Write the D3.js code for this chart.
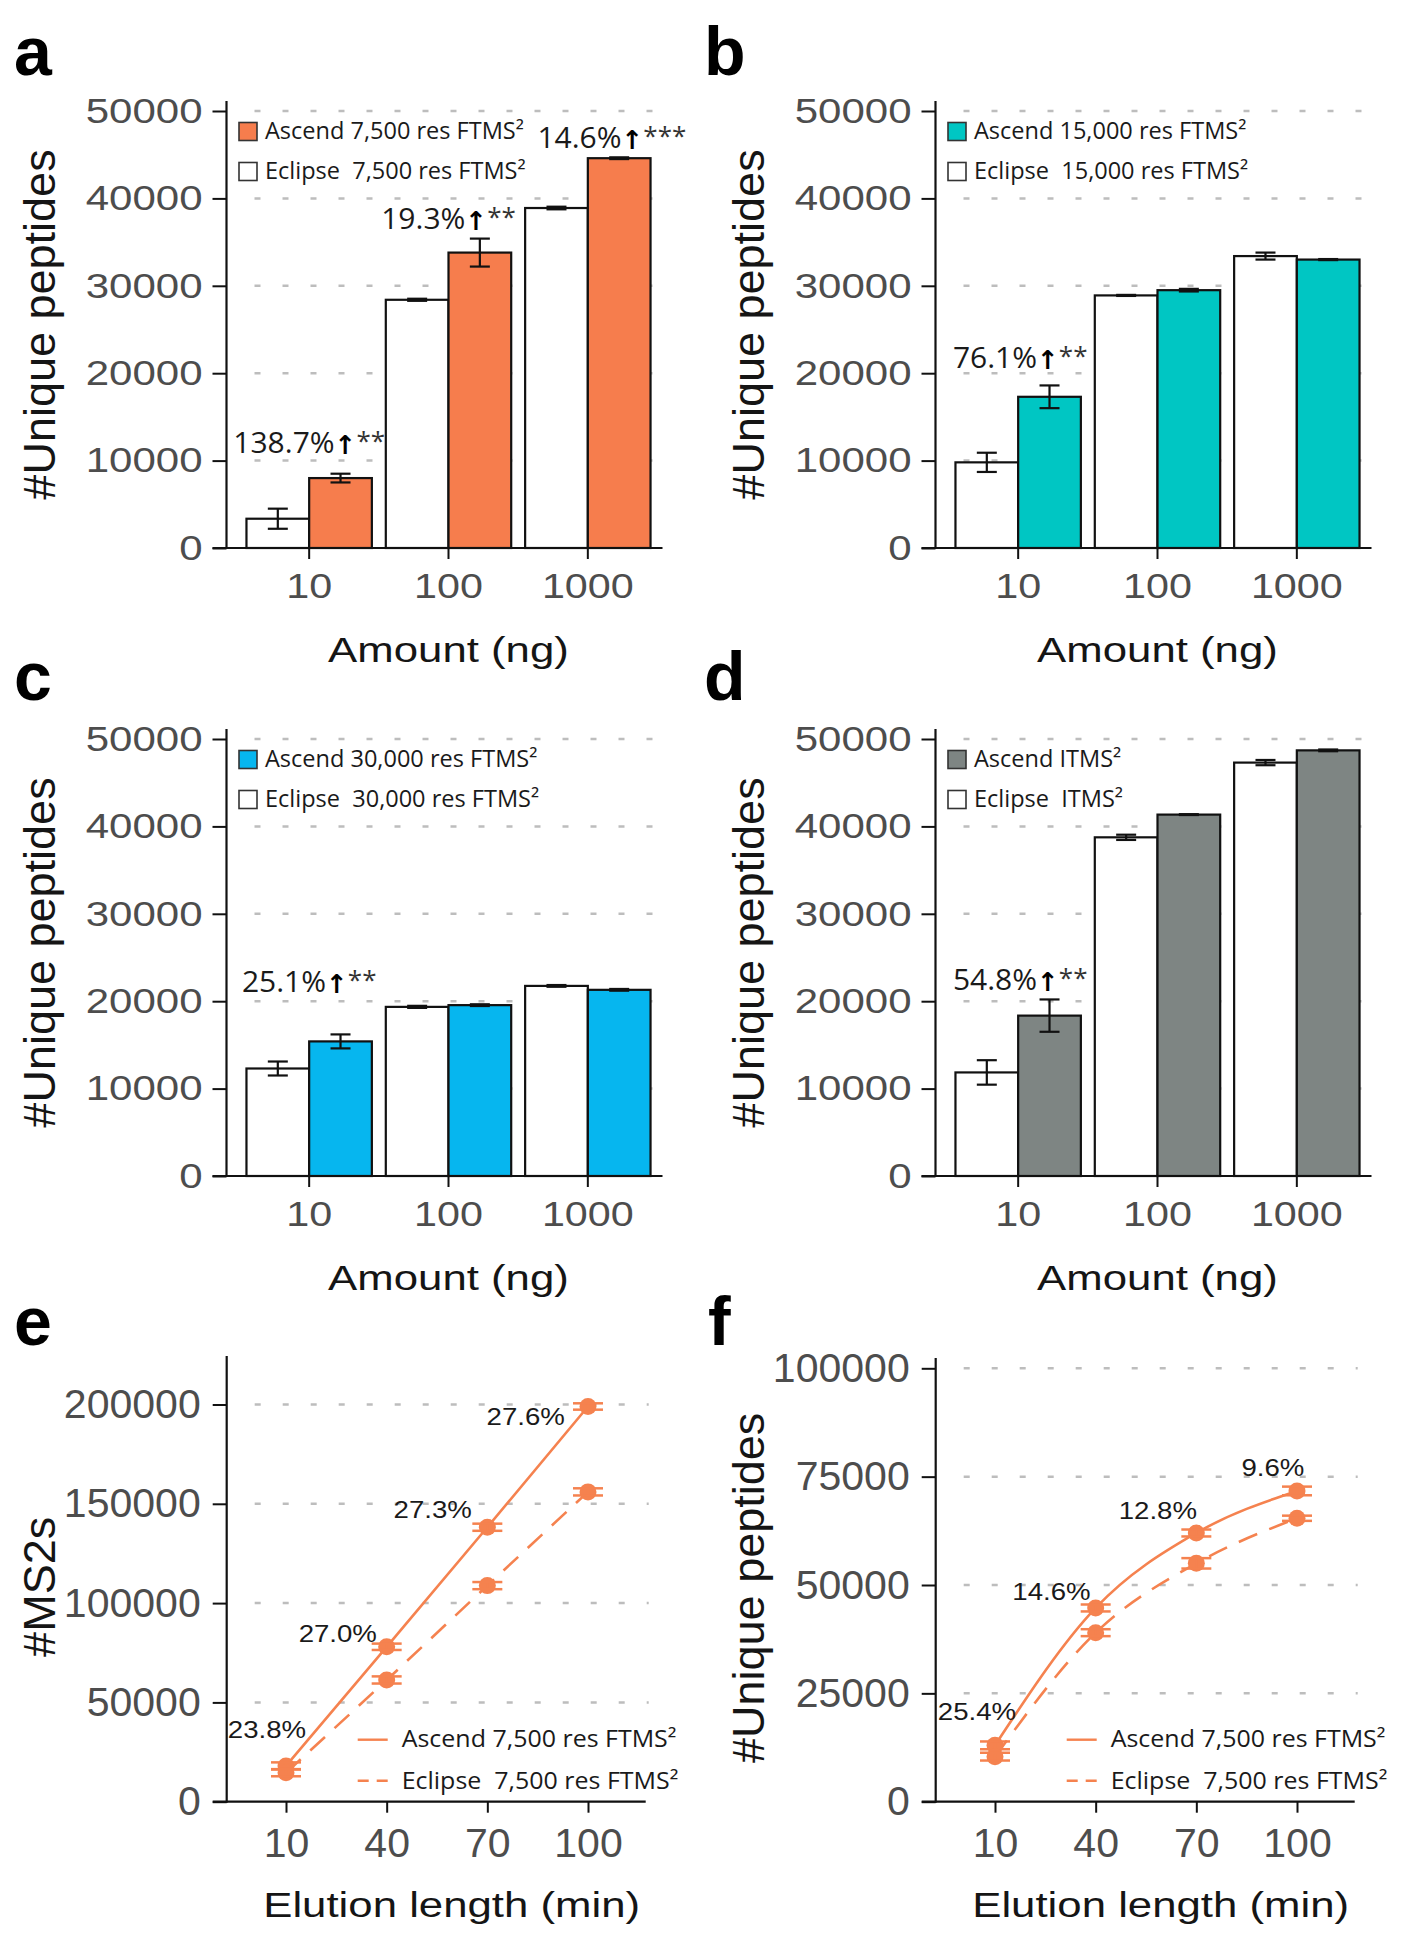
<!DOCTYPE html>
<html><head><meta charset="utf-8">
<script src="https://cdn.jsdelivr.net/npm/d3@7"></script>
<style>body{margin:0;background:#fff} svg{display:block} text{white-space:pre}</style>
</head><body>
<svg id="chart" width="1413" height="1950"></svg>
<script>
// ================= DATA =================
const amounts = ["10", "100", "1000"];
const instruments = ["Eclipse", "Ascend"];
const barTicks = [0, 10000, 20000, 30000, 40000, 50000];

// panel a
const aEclipse = [3350, 28400, 38900];
const aEclipseErr = [1150, 120, 150];
const aAscend = [8000, 33800, 44600];
const aAscendErr = [500, 1600, 100];
const aLegend = ["Ascend 7,500 res FTMS²", "Eclipse  7,500 res FTMS²"];
const aPctCat = ["10", "100", "1000"];
const aPct = ["138.7%", "19.3%", "14.6%"];
const aStars = ["**", "**", "***"];
const aPctLevel = [10900, 36500, 45800];

// panel b
const bEclipse = [9800, 28900, 33400];
const bEclipseErr = [1100, 60, 400];
const bAscend = [17300, 29500, 33000];
const bAscendErr = [1300, 150, 60];
const bLegend = ["Ascend 15,000 res FTMS²", "Eclipse  15,000 res FTMS²"];
const bPctCat = ["10"];
const bPct = ["76.1%"];
const bStars = ["**"];
const bPctLevel = [20600];

// panel c
const cEclipse = [12300, 19350, 21750];
const cEclipseErr = [800, 120, 100];
const cAscend = [15400, 19550, 21300];
const cAscendErr = [800, 100, 100];
const cLegend = ["Ascend 30,000 res FTMS²", "Eclipse  30,000 res FTMS²"];
const cPctCat = ["10"];
const cPct = ["25.1%"];
const cStars = ["**"];
const cPctLevel = [21100];

// panel d
const dEclipse = [11850, 38750, 47300];
const dEclipseErr = [1400, 300, 300];
const dAscend = [18350, 41350, 48700];
const dAscendErr = [1850, 50, 100];
const dLegend = ["Ascend ITMS²", "Eclipse  ITMS²"];
const dPctCat = ["10"];
const dPct = ["54.8%"];
const dStars = ["**"];
const dPctLevel = [21300];

// panel e
const elution = [10, 40, 70, 100];
const eTicks = [0, 50000, 100000, 150000, 200000];
const eAscend = [18000, 78000, 138200, 199000];
const eAscendErr = [1800, 1600, 1800, 1600];
const eEclipse = [14600, 61300, 108800, 156000];
const eEclipseErr = [1800, 1800, 1800, 1800];
const ePct = ["23.8%", "27.0%", "27.3%", "27.6%"];
const ePctX = [16, 37.1, 65.4, 93.1];
const ePctY = [32100, 80600, 142900, 189700];

// panel f
const fTicks = [0, 25000, 50000, 75000, 100000];
const fAscend = [13000, 44700, 62000, 71700];
const fAscendErr = [900, 800, 800, 1000];
const fEclipse = [10400, 39000, 55000, 65400];
const fEclipseErr = [900, 800, 1200, 600];
const fPct = ["25.4%", "14.6%", "12.8%", "9.6%"];
const fPctX = [16.3, 38.5, 70.2, 102.2];
const fPctY = [18850, 46650, 65230, 75150];

const lineLegend = ["Ascend 7,500 res FTMS²", "Eclipse  7,500 res FTMS²"];

// ================= STYLE =================
const SANS = "'Liberation Sans', Arial, Helvetica, sans-serif";
const HUM = "'Open Sans', 'Noto Sans', sans-serif";
const ORANGE_LINE = "#f5824f";

const svg = d3.select("#chart");

function stretch(sel, k) {
  sel.each(function () {
    const w = this.getComputedTextLength();
    if (w > 0) d3.select(this).attr("textLength", w * k).attr("lengthAdjust", "spacingAndGlyphs");
  });
}

function panelLabel(txt, x, y) {
  svg.append("text").attr("x", x).attr("y", y).text(txt)
    .attr("font-family", SANS).attr("font-weight", "bold").attr("font-size", 68).attr("fill", "#000");
}

function yTitle(txt, x, yc) {
  svg.append("text").attr("transform", `translate(${x},${yc}) rotate(-90)`)
    .attr("text-anchor", "middle").attr("font-family", SANS).attr("font-size", 45)
    .attr("fill", "#151515").text(txt);
}

function xTitle(txt, xc, y) {
  const t = svg.append("text").attr("x", xc).attr("y", y).attr("text-anchor", "middle")
    .attr("font-family", SANS).attr("font-size", 35).attr("fill", "#151515").text(txt);
  stretch(t, 1.25);
}

// ================= BAR PANEL =================
function barPanel(o) {
  const g = svg.append("g");
  const y = d3.scaleLinear().domain([0, 50000]).range([o.y0, o.y0 - 437]);
  const x = d3.scaleBand().domain(amounts).range([o.ax + 13, o.ax + 431]).paddingInner(0.1).paddingOuter(0.05);
  const xs = d3.scaleBand().domain(instruments).range([0, x.bandwidth()]);

  g.selectAll("line.grid").data(barTicks.filter(v => v > 0)).join("line")
    .attr("x1", o.ax + 28).attr("x2", o.ax + 440)
    .attr("y1", d => y(d)).attr("y2", d => y(d))
    .attr("stroke", "#bdbdbd").attr("stroke-width", 2.5).attr("stroke-dasharray", "6,22");

  const rows = amounts.flatMap((c, i) => [
    { c, s: "Eclipse", v: o.ecl[i], e: o.eclErr[i] },
    { c, s: "Ascend", v: o.asc[i], e: o.ascErr[i] }
  ]);

  g.selectAll("rect.bar").data(rows).join("rect")
    .attr("x", d => x(d.c) + xs(d.s)).attr("width", xs.bandwidth())
    .attr("y", d => y(d.v)).attr("height", d => y(0) - y(d.v))
    .attr("fill", d => d.s === "Ascend" ? o.color : "#fff")
    .attr("stroke", "#111").attr("stroke-width", 2.2);

  const eb = g.selectAll("g.err").data(rows).join("g")
    .attr("transform", d => `translate(${x(d.c) + xs(d.s) + xs.bandwidth() / 2},0)`);
  eb.append("line").attr("x1", 0).attr("x2", 0)
    .attr("y1", d => y(d.v - d.e)).attr("y2", d => y(d.v + d.e))
    .attr("stroke", "#111").attr("stroke-width", 2.2);
  eb.append("line").attr("x1", -10).attr("x2", 10)
    .attr("y1", d => y(d.v - d.e)).attr("y2", d => y(d.v - d.e))
    .attr("stroke", "#111").attr("stroke-width", 2.2);
  eb.append("line").attr("x1", -10).attr("x2", 10)
    .attr("y1", d => y(d.v + d.e)).attr("y2", d => y(d.v + d.e))
    .attr("stroke", "#111").attr("stroke-width", 2.2);

  // axes
  const ya = g.append("g").attr("transform", `translate(${o.ax},0)`)
    .call(d3.axisLeft(y).tickValues(barTicks).tickSize(14).tickSizeOuter(0).tickPadding(10).tickFormat(d3.format("d")));
  ya.select(".domain").remove();
  ya.selectAll(".tick line").attr("stroke", "#111").attr("stroke-width", 2);
  ya.selectAll(".tick text").attr("font-family", SANS).attr("font-size", 35).attr("fill", "#4d4d4d");
  stretch(ya.selectAll(".tick text"), 1.2);

  const xa = g.append("g").attr("transform", `translate(0,${o.y0})`)
    .call(d3.axisBottom(x).tickSize(11).tickSizeOuter(0).tickPadding(14));
  xa.select(".domain").remove();
  xa.selectAll(".tick line").attr("stroke", "#111").attr("stroke-width", 2);
  xa.selectAll(".tick text").attr("font-family", SANS).attr("font-size", 35).attr("fill", "#4d4d4d");
  stretch(xa.selectAll(".tick text"), 1.18);

  g.append("line").attr("x1", o.ax).attr("x2", o.ax).attr("y1", o.y0 + 1).attr("y2", y(50000) - 10)
    .attr("stroke", "#111").attr("stroke-width", 2.2);
  g.append("line").attr("x1", o.ax - 14).attr("x2", o.ax + 436).attr("y1", o.y0).attr("y2", o.y0)
    .attr("stroke", "#111").attr("stroke-width", 2.2);

  // legend
  const lg = g.append("g");
  const items = [{ t: o.legend[0], f: o.color }, { t: o.legend[1], f: "#fff" }];
  items.forEach((it, i) => {
    const yc = y(50000) + 20.5 + i * 40;
    lg.append("rect").attr("x", o.ax + 12.5).attr("y", yc - 9).attr("width", 18).attr("height", 18)
      .attr("fill", it.f).attr("stroke", "#333").attr("stroke-width", 1.6);
    const t = lg.append("text").attr("x", o.ax + 38.5).attr("y", yc + 7.5)
      .attr("font-family", HUM).attr("font-size", 24).attr("fill", "#1a1a1a").text(it.t);
    stretch(t, 0.98);
  });

  // annotations
  o.pctCat.forEach((c, i) => {
    const t = g.append("text")
      .attr("x", x(c) + x.bandwidth() / 2 + (o.pctDx ? o.pctDx[i] : 0))
      .attr("y", y(o.pctLevel[i])).attr("text-anchor", "middle")
      .attr("font-family", HUM).attr("font-size", 30).attr("fill", "#1a1a1a");
    t.append("tspan").text(o.pct[i]);
    t.append("tspan").attr("font-family", "'DejaVu Sans', sans-serif").attr("font-weight", "bold").attr("font-size", 26)
      .attr("fill", "#000").attr("dy", 1).text("↑");
    t.append("tspan").attr("font-family", HUM).attr("font-size", 26).attr("fill", "#333")
      .attr("dy", -4).text(o.stars[i]);
  });

  yTitle("#Unique peptides", o.ax - 172, (o.y0 + y(50000) - 10) / 2);
  xTitle("Amount (ng)", o.ax + 222, o.y0 + 114);
}

// ================= LINE PANEL =================
function linePanel(o) {
  const g = svg.append("g");
  const y = d3.scaleLinear().domain([0, o.ymax]).range([o.y0, o.yMaxPx]);
  const x = d3.scaleLinear().domain([10, 100]).range([o.x10, o.x10 + 302]);

  g.selectAll("line.grid").data(o.ticks.filter(v => v > 0)).join("line")
    .attr("x1", o.ax + 28).attr("x2", o.ax + 422)
    .attr("y1", d => y(d)).attr("y2", d => y(d))
    .attr("stroke", "#bdbdbd").attr("stroke-width", 2.5).attr("stroke-dasharray", "6,22");

  const series = [
    { v: o.asc, e: o.ascErr, dash: null },
    { v: o.ecl, e: o.eclErr, dash: "20,13" }
  ];
  const line = d3.line().x((d, i) => x(elution[i])).y(d => y(d)).curve(d3.curveMonotoneX);
  series.forEach(s => {
    g.append("path").attr("d", line(s.v)).attr("fill", "none")
      .attr("stroke", ORANGE_LINE).attr("stroke-width", 2.6)
      .attr("stroke-dasharray", s.dash);
  });
  series.forEach(s => {
    const pts = g.selectAll(null).data(s.v.map((v, i) => ({ x: elution[i], v, e: s.e[i] }))).join("g");
    pts.append("circle").attr("cx", d => x(d.x)).attr("cy", d => y(d.v)).attr("r", 8.5).attr("fill", ORANGE_LINE);
    pts.append("line").attr("x1", d => x(d.x)).attr("x2", d => x(d.x))
      .attr("y1", d => y(d.v - d.e)).attr("y2", d => y(d.v + d.e))
      .attr("stroke", ORANGE_LINE).attr("stroke-width", 2.5);
    [-1, 1].forEach(sg => {
      pts.append("line").attr("x1", d => x(d.x) - 15).attr("x2", d => x(d.x) + 15)
        .attr("y1", d => y(d.v + sg * d.e)).attr("y2", d => y(d.v + sg * d.e))
        .attr("stroke", ORANGE_LINE).attr("stroke-width", 2.5);
    });
  });

  // percentage labels
  o.pct.forEach((p, i) => {
    const t = g.append("text").attr("x", x(o.pctX[i])).attr("y", y(o.pctY[i]))
      .attr("text-anchor", "end").attr("font-family", SANS).attr("font-size", 24).attr("fill", "#1a1a1a").text(p);
    stretch(t, 1.15);
  });

  // axes
  const ya = g.append("g").attr("transform", `translate(${o.ax},0)`)
    .call(d3.axisLeft(y).tickValues(o.ticks).tickSize(14).tickSizeOuter(0).tickPadding(12).tickFormat(d3.format("d")));
  ya.select(".domain").remove();
  ya.selectAll(".tick line").attr("stroke", "#111").attr("stroke-width", 2);
  ya.selectAll(".tick text").attr("font-family", SANS).attr("font-size", 41).attr("fill", "#4d4d4d");

  const xa = g.append("g").attr("transform", `translate(0,${o.y0})`)
    .call(d3.axisBottom(x).tickValues(elution).tickSize(11).tickSizeOuter(0).tickPadding(15).tickFormat(d3.format("d")));
  xa.select(".domain").remove();
  xa.selectAll(".tick line").attr("stroke", "#111").attr("stroke-width", 2);
  xa.selectAll(".tick text").attr("font-family", SANS).attr("font-size", 41).attr("fill", "#4d4d4d");

  g.append("line").attr("x1", o.ax).attr("x2", o.ax).attr("y1", o.y0 + 1).attr("y2", o.axTop)
    .attr("stroke", "#111").attr("stroke-width", 2.2);
  g.append("line").attr("x1", o.ax - 14).attr("x2", o.ax + 419).attr("y1", o.y0).attr("y2", o.y0)
    .attr("stroke", "#111").attr("stroke-width", 2.2);

  // legend
  [0, 1].forEach(i => {
    const yb = o.y0 - 55 + i * 42.5;
    g.append("line").attr("x1", o.ax + 131).attr("x2", o.ax + 161)
      .attr("y1", yb - 7 - i * 1.5).attr("y2", yb - 7 - i * 1.5)
      .attr("stroke", ORANGE_LINE).attr("stroke-width", 2.4)
      .attr("stroke-dasharray", i === 1 ? "11,8" : null);
    const t = g.append("text").attr("x", o.ax + 175).attr("y", yb)
      .attr("font-family", HUM).attr("font-size", 24).attr("fill", "#1a1a1a").text(lineLegend[i]);
    stretch(t, 1.04);
  });

  yTitle(o.yTitle, o.ax - 172, (o.y0 + o.axTop) / 2 + 8);
  xTitle("Elution length (min)", o.ax + 225, o.y0 + 115);
}

// ================= DRAW =================
barPanel({ ax: 226.5, y0: 548, color: "#f67d4d", ecl: aEclipse, eclErr: aEclipseErr, asc: aAscend, ascErr: aAscendErr,
  legend: aLegend, pctCat: aPctCat, pct: aPct, stars: aStars, pctLevel: aPctLevel, pctDx: [0, 0, 24] });
barPanel({ ax: 935.5, y0: 548, color: "#00c6c3", ecl: bEclipse, eclErr: bEclipseErr, asc: bAscend, ascErr: bAscendErr,
  legend: bLegend, pctCat: bPctCat, pct: bPct, stars: bStars, pctLevel: bPctLevel, pctDx: [2] });
barPanel({ ax: 226.5, y0: 1176, color: "#06b6ef", ecl: cEclipse, eclErr: cEclipseErr, asc: cAscend, ascErr: cAscendErr,
  legend: cLegend, pctCat: cPctCat, pct: cPct, stars: cStars, pctLevel: cPctLevel, pctDx: [0] });
barPanel({ ax: 935.5, y0: 1176, color: "#7e8583", ecl: dEclipse, eclErr: dEclipseErr, asc: dAscend, ascErr: dAscendErr,
  legend: dLegend, pctCat: dPctCat, pct: dPct, stars: dStars, pctLevel: dPctLevel, pctDx: [2] });

linePanel({ ax: 226.7, y0: 1801.7, ymax: 200000, yMaxPx: 1404.5, axTop: 1356, x10: 286, ticks: eTicks,
  asc: eAscend, ascErr: eAscendErr, ecl: eEclipse, eclErr: eEclipseErr, pct: ePct, pctX: ePctX, pctY: ePctY, yTitle: "#MS2s" });
linePanel({ ax: 935.7, y0: 1801.7, ymax: 100000, yMaxPx: 1368.3, axTop: 1358, x10: 995, ticks: fTicks,
  asc: fAscend, ascErr: fAscendErr, ecl: fEclipse, eclErr: fEclipseErr, pct: fPct, pctX: fPctX, pctY: fPctY, yTitle: "#Unique peptides" });

panelLabel("a", 14, 75);
panelLabel("b", 704, 75);
panelLabel("c", 14, 700);
panelLabel("d", 704, 700);
panelLabel("e", 14, 1345);
panelLabel("f", 708, 1345);
</script>
</body></html>
